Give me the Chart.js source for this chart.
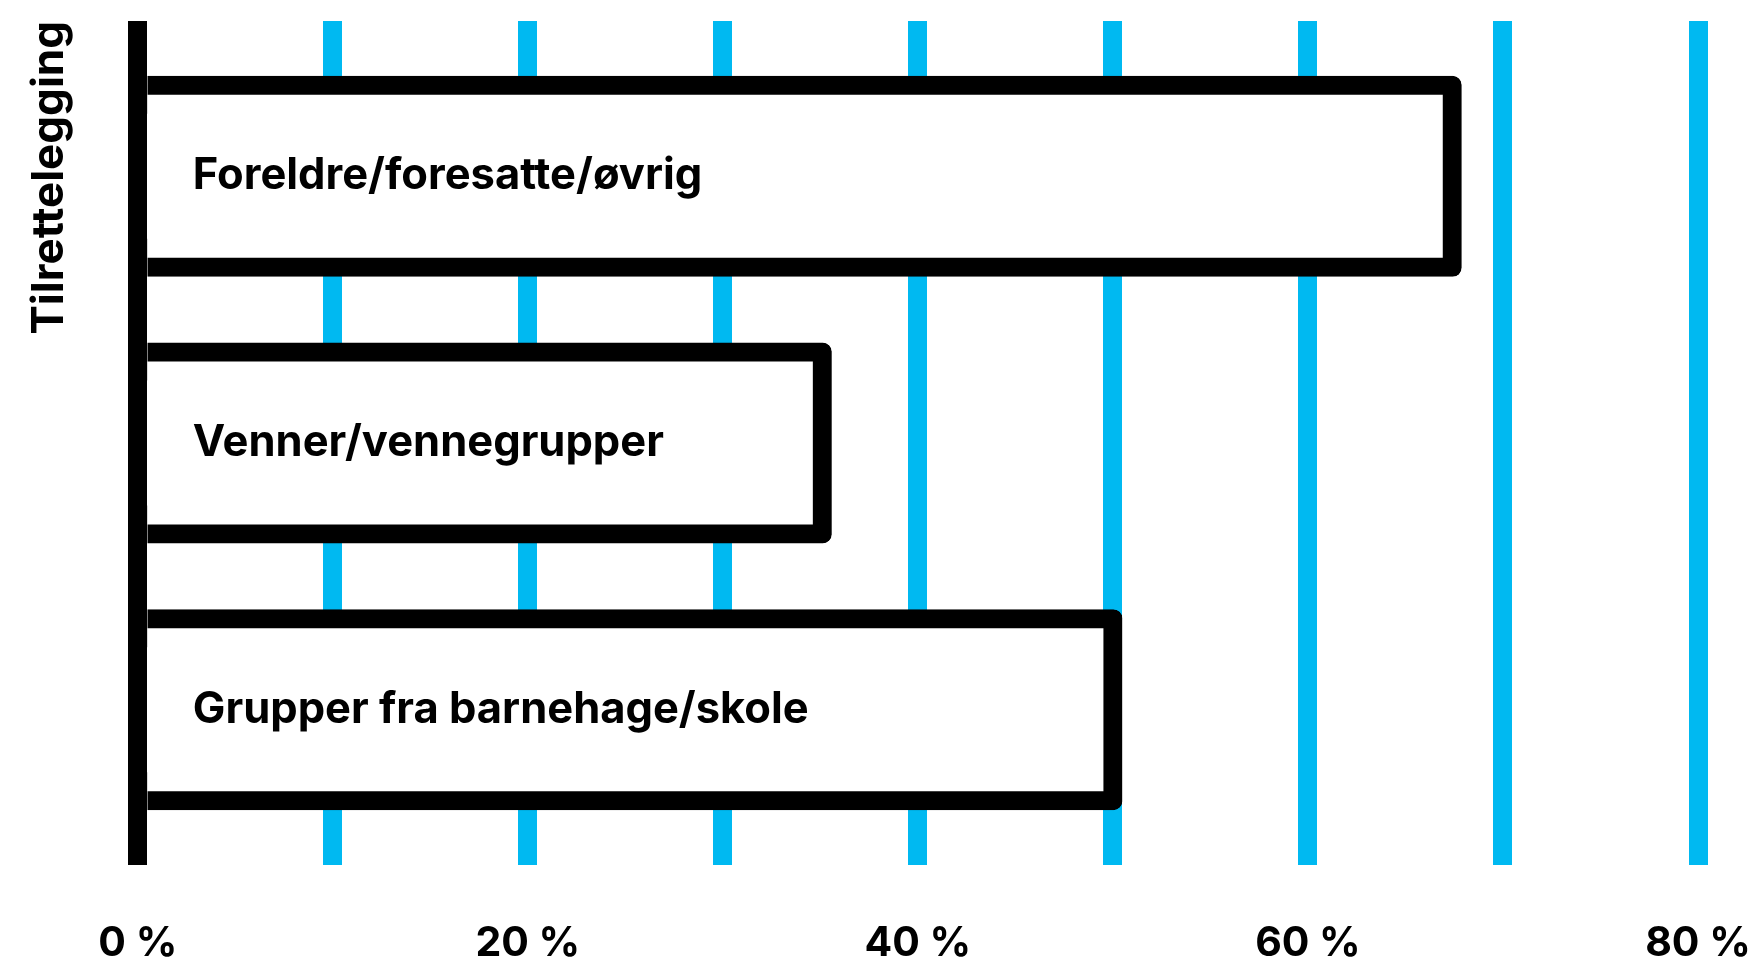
<!DOCTYPE html>
<html>
<head>
<meta charset="utf-8">
<script src="https://cdn.jsdelivr.net/npm/chart.js@4.4.1/dist/chart.umd.min.js"></script>
<style>
  html, body { margin: 0; padding: 0; background: #fff; }
  #wrap { width: 1757px; height: 959px; }
</style>
</head>
<body>
<div id="wrap"><canvas id="chart"></canvas></div>
<script>
/* data */
const categories = ['Foreldre/foresatte/øvrig', 'Venner/vennegrupper', 'Grupper fra barnehage/skole'];
const shares = [67.4, 35.1, 50];
const tickValues = [0, 20, 40, 60, 80];
const tickLabels = ['0 %', '20 %', '40 %', '60 %', '80 %'];
const axisTitle = 'Tilrettelegging';

const BLUE = '#00b9f1';
const LINE = 19;

const gridColor = (c) => (c.tick && c.tick.value === 0 ? '#000' : BLUE);
const font = (size, lh) => ({ family: 'Inter', weight: '700', size: size, lineHeight: lh });

new Chart(document.getElementById('chart'), {
  type: 'bar',
  data: {
    labels: categories,
    datasets: [{
      data: shares,
      backgroundColor: '#fff',
      borderColor: '#000',
      borderWidth: LINE,
      borderSkipped: 'start',
      borderRadius: 9,
      inflateAmount: LINE / 2,
      barThickness: 182
    }]
  },
  options: {
    indexAxis: 'y',
    responsive: true,
    maintainAspectRatio: false,
    animation: false,
    layout: { padding: { top: 21, right: 59, bottom: 0, left: 0 } },
    plugins: {
      legend: { display: false },
      tooltip: { enabled: false },
      title: {
        display: true,
        text: axisTitle,
        position: 'left',
        align: 'end',
        color: '#000',
        font: font(44, 1.2),
        padding: { top: 23, bottom: 62 }
      }
    },
    scales: {
      x: {
        type: 'linear',
        position: 'bottom',
        min: 0,
        max: 80,
        border: { display: false },
        grid: { color: gridColor, lineWidth: LINE, tickLength: 22 },
        ticks: {
          stepSize: 10,
          autoSkip: false,
          maxRotation: 0,
          padding: 64,
          color: '#000',
          font: font(41, 0.7),
          callback: (v) => {
            const i = tickValues.indexOf(v);
            return i >= 0 ? tickLabels[i] : '';
          }
        },
        afterFit: (s) => {
          s.height = 116;
          s.paddingLeft = 0;
          s.paddingRight = 0;
        }
      },
      x2: {
        type: 'linear',
        position: 'top',
        min: 0,
        max: 80,
        border: { display: false },
        grid: { color: gridColor, lineWidth: LINE, tickLength: 22 },
        ticks: { display: false, stepSize: 10 }
      },
      y: {
        grid: { display: false, drawTicks: false },
        border: { display: true, color: '#000', width: LINE, z: 1 },
        ticks: {
          z: 1,
          mirror: true,
          padding: 55,
          color: '#000',
          font: font(43.5, 1.2)
        },
        afterFit: (s) => {
          s.width = 0;
          s.paddingTop = 0;
          s.paddingBottom = 0;
        }
      }
    }
  }
});
</script>
</body>
</html>
